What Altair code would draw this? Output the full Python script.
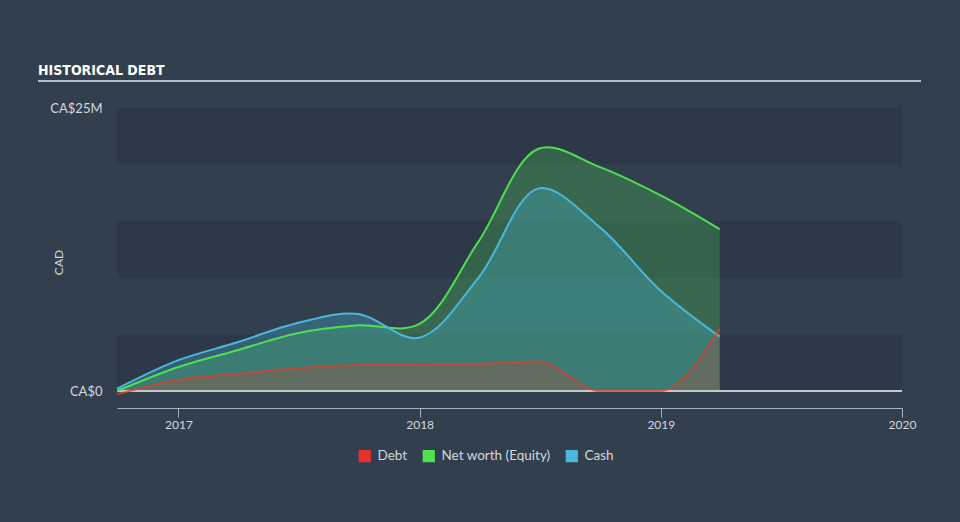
import altair as alt
import pandas as pd

# ---- data (CA$ millions) ----
dates = ["2016-09-30", "2016-12-31", "2017-03-31", "2017-06-30", "2017-09-30",
         "2017-12-31", "2018-03-31", "2018-06-30", "2018-09-30", "2018-12-31",
         "2019-03-31"]
debt = [-0.3, 1.0, 1.5, 2.0, 2.3, 2.3, 2.4, 2.6, 0.0, 0.0, 5.5]
equity = [0.0, 2.1, 3.6, 5.1, 5.8, 5.9, 13.2, 21.4, 19.8, 17.3, 14.3]
cash = [0.2, 2.7, 4.3, 6.0, 6.8, 4.7, 10.0, 17.9, 14.5, 8.9, 4.8]

series_names = ["Debt", "Net worth (Equity)", "Cash"]
series_colors = ["#e8302c", "#4fe04f", "#4ab8dc"]
band_lo = [0, 10, 20]
band_hi = [5, 15, 25]
x_ticks = ["2017-01-01", "2018-01-01", "2019-01-01", "2020-01-01"]
title_text = ["HISTORICAL DEBT"]

wide = pd.DataFrame({"date": dates, "debt": debt, "equity": equity, "cash": cash})
legend_df = pd.DataFrame({"name": series_names})
bands = pd.DataFrame({"lo": band_lo, "hi": band_hi})
title_df = pd.DataFrame({"t": title_text})

W, H = 785, 283
xscale = alt.Scale(domain=["2016-09-30", "2020-01-01"])
yscale = alt.Scale(domain=[0, 25], nice=False)
FONT = "Lato"
SMOOTH = "catmull-rom"

xaxis = alt.Axis(values=x_ticks, format="%Y", labelColor="#d4d8de", labelFontSize=12,
                 labelFont=FONT, domainColor="#a9b2bd", tickColor="#a9b2bd",
                 tickSize=9, offset=17, grid=False, title=None, labelPadding=2,
                 labelFlush=False)
yaxis = alt.Axis(values=[0, 25], labelExpr="datum.value == 0 ? 'CA$0' : 'CA$25M'",
                 labelColor="#d4d8de", labelFontSize=13, labelFont=FONT,
                 domain=False, ticks=False, grid=False, labelPadding=15,
                 title="CAD", titleColor="#d4d8de", titleFont=FONT, titleFontSize=12,
                 titleFontWeight="normal", titleX=-59, titleY=154, titleAngle=270,
                 titleBaseline="middle", titleAlign="center")

band_layer = alt.Chart(bands).mark_rect(color="#2d3949").encode(
    y=alt.Y("lo:Q", scale=yscale, axis=yaxis),
    y2="hi:Q",
    x=alt.value(0), x2=alt.value(W),
)

eq_area = alt.Chart(wide).mark_area(interpolate=SMOOTH, color="#4ee04e", opacity=0.25).encode(
    x=alt.X("date:T", scale=xscale, axis=xaxis),
    y=alt.Y("equity:Q", scale=yscale),
)
cash_area = alt.Chart(wide).mark_area(interpolate=SMOOTH, color="#4ab8dc", opacity=0.3).encode(
    x="date:T", y="cash:Q",
)
debt_area = alt.Chart(wide).mark_area(interpolate="monotone", color="#d8402c", opacity=0.25).encode(
    x="date:T", y="debt:Q",
)

zero_rule = alt.Chart(wide).mark_rule(color="#c3c8ce", strokeWidth=2).encode(
    y=alt.datum(0), x=alt.value(0), x2=alt.value(W)
)

line_eq = alt.Chart(wide).mark_line(interpolate=SMOOTH, strokeWidth=2, color=series_colors[1]).encode(
    x="date:T", y="equity:Q")
line_cash = alt.Chart(wide).mark_line(interpolate=SMOOTH, strokeWidth=2, color=series_colors[2]).encode(
    x="date:T", y="cash:Q")
line_debt = alt.Chart(wide).mark_line(interpolate="monotone", strokeWidth=2,
                                      color="#e0402c", opacity=0.75).encode(
    x="date:T", y="debt:Q")

legend_layer = alt.Chart(legend_df).mark_square(filled=True, size=0).encode(
    color=alt.Color("name:N", scale=alt.Scale(domain=series_names, range=series_colors),
                    legend=alt.Legend(orient="none", legendX=241, legendY=341,
                                      direction="horizontal",
                                      title=None, symbolType="square", symbolSize=150,
                                      symbolStrokeWidth=0, symbolOpacity=1,
                                      labelColor="#d4d8de", labelFontSize=13.5,
                                      labelFont=FONT, labelOffset=6, columnPadding=14)),
)

title_rule = alt.Chart(title_df).mark_rule(color="#b8bec6", strokeWidth=2).encode(
    x=alt.value(-79), x2=alt.value(804), y=alt.value(-27)
)
title_mark = alt.Chart(title_df).mark_text(
    align="left", baseline="alphabetic", font="DejaVu Sans Condensed", fontSize=14,
    fontWeight="bold", color="#ffffff").encode(
    text="t:N", x=alt.value(-79), y=alt.value(-33)
)

chart = alt.layer(
    band_layer, eq_area, cash_area, debt_area, zero_rule, line_eq, line_cash, line_debt,
    legend_layer, title_rule, title_mark
).properties(
    width=W, height=H,
    background="#323f4f",
    padding={"left": 117, "top": 108, "right": 58, "bottom": 131},
    autosize=alt.AutoSizeParams(type="none"),
).configure_view(stroke=None).configure_legend(symbolSize=150, symbolOpacity=1)

chart.save("out.html", embed_options={"renderer": "svg", "actions": False})
